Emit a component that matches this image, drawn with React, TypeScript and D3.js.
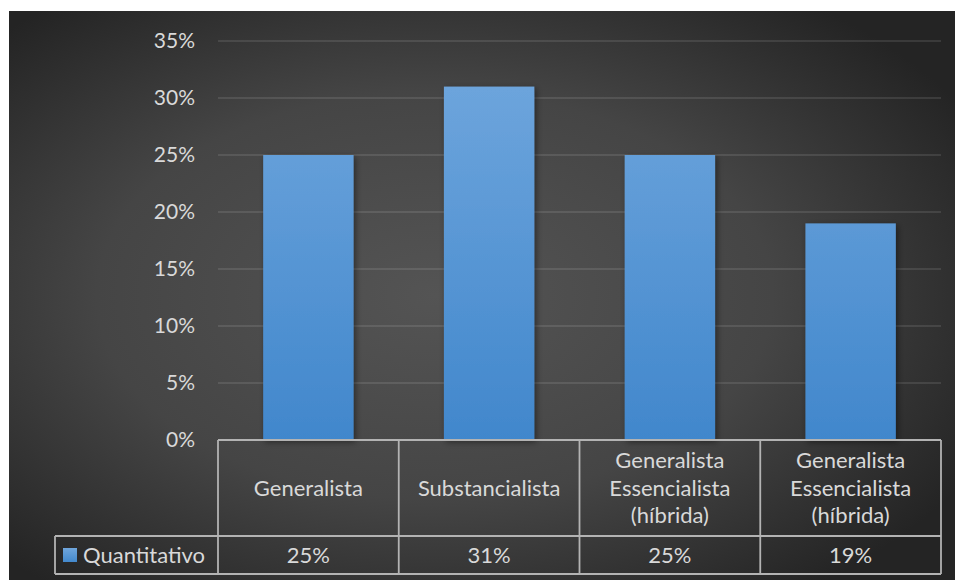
import React from "react";
import * as d3 from "d3";

const categories = ["Generalista", "Substancialista", "Generalista Essencialista (híbrida)", "Generalista Essencialista (híbrida) "];
const categoryLines = [["Generalista"], ["Substancialista"], ["Generalista", "Essencialista", "(híbrida)"], ["Generalista", "Essencialista", "(híbrida)"]];
const values = [0.25, 0.31, 0.25, 0.19];
const seriesName = "Quantitativo";
const yTicks = [0, 0.05, 0.1, 0.15, 0.2, 0.25, 0.3, 0.35];

const W = 955;
const H = 580;
const FONT = "Lato, 'Open Sans', sans-serif";
const TEXT = "#d9d9d9";
const LINE = "#b3b3b3";

export default function App() {
  const plotLeft = 218;
  const plotRight = 941;
  const y = d3.scaleLinear().domain([0, 0.35]).range([440, 41]);
  const x = d3.scaleBand<string>().domain(categories).range([plotLeft, plotRight]).paddingInner(0.5).paddingOuter(0.25);
  const pct = d3.format(".0%");
  const step = x.step();
  const tableTop = y(0);
  const rowSplit = 536;
  const tableBottom = 574;
  const legendLeft = 55;
  const colEdges = categories.map((_, i) => plotLeft + i * step).concat([plotRight]);

  return (
    <svg width={W} height={H} style={{ position: "absolute", left: 0, top: 0 }} fontFamily={FONT}>
      <defs>
        <radialGradient id="bg" cx="45%" cy="50%" r="65%">
          <stop offset="0" stopColor="#545454" />
          <stop offset="0.55" stopColor="#454545" />
          <stop offset="1" stopColor="#242424" />
        </radialGradient>
        <linearGradient id="bar" x1="0" y1="0" x2="0" y2="1">
          <stop offset="0" stopColor="#70a6dc" />
          <stop offset="1" stopColor="#4389cd" />
        </linearGradient>
        <linearGradient id="bar2" gradientUnits="userSpaceOnUse" x1="0" y1={y(0.35)} x2="0" y2={y(0)}>
          <stop offset="0" stopColor="#72a8de" />
          <stop offset="1" stopColor="#4187cc" />
        </linearGradient>
        <filter id="shadow" x="-20%" y="-20%" width="140%" height="140%">
          <feDropShadow dx="2" dy="2" stdDeviation="3" floodColor="#000" floodOpacity="0.45" />
        </filter>
      </defs>
      <rect x={0} y={0} width={W} height={H} fill="#ffffff" />
      <rect x={9} y={11} width={W - 9} height={H - 11} fill="url(#bg)" />

      {yTicks.map((t) => (
        <g key={t}>
          {t > 0 && (
            <line x1={plotLeft} x2={plotRight} y1={y(t)} y2={y(t)} stroke="#ffffff" strokeOpacity={0.1} strokeWidth={2} />
          )}
          <text x={195} y={y(t)} dy="0.35em" textAnchor="end" fill={TEXT} fontSize={21}>
            {pct(t)}
          </text>
        </g>
      ))}

      {values.map((v, i) => (
        <rect
          key={i}
          x={x(categories[i])}
          y={y(v)}
          width={x.bandwidth()}
          height={y(0) - y(v)}
          fill="url(#bar2)"
          filter="url(#shadow)"
        />
      ))}

      {/* data table */}
      <g stroke={LINE} strokeWidth={1.8} fill="none">
        <line x1={plotLeft} x2={plotRight} y1={tableTop} y2={tableTop} />
        <line x1={legendLeft} x2={plotRight} y1={rowSplit} y2={rowSplit} />
        <line x1={legendLeft} x2={plotRight} y1={tableBottom} y2={tableBottom} />
        <line x1={legendLeft} x2={legendLeft} y1={rowSplit} y2={tableBottom} />
        {colEdges.map((cx, i) => (
          <line key={i} x1={cx} x2={cx} y1={tableTop} y2={tableBottom} />
        ))}
      </g>

      {categoryLines.map((lines, i) => {
        const cx = (x(categories[i]) as number) + x.bandwidth() / 2;
        const mid = (tableTop + rowSplit) / 2;
        const lh = 27.5;
        const start = mid - ((lines.length - 1) * lh) / 2;
        return (
          <text key={i} textAnchor="middle" fill={TEXT} fontSize={22}>
            {lines.map((l, j) => (
              <tspan key={j} x={cx} y={start + j * lh} dy="0.35em">
                {l}
              </tspan>
            ))}
          </text>
        );
      })}

      {values.map((v, i) => (
        <text
          key={i}
          x={(x(categories[i]) as number) + x.bandwidth() / 2}
          y={(rowSplit + tableBottom) / 2}
          dy="0.35em"
          textAnchor="middle"
          fill={TEXT}
          fontSize={22}
        >
          {pct(v)}
        </text>
      ))}

      <rect x={63} y={548} width={14} height={14} fill="url(#bar)" />
      <text x={83} y={(rowSplit + tableBottom) / 2} dy="0.35em" fill={TEXT} fontSize={22}>
        {seriesName}
      </text>
    </svg>
  );
}
